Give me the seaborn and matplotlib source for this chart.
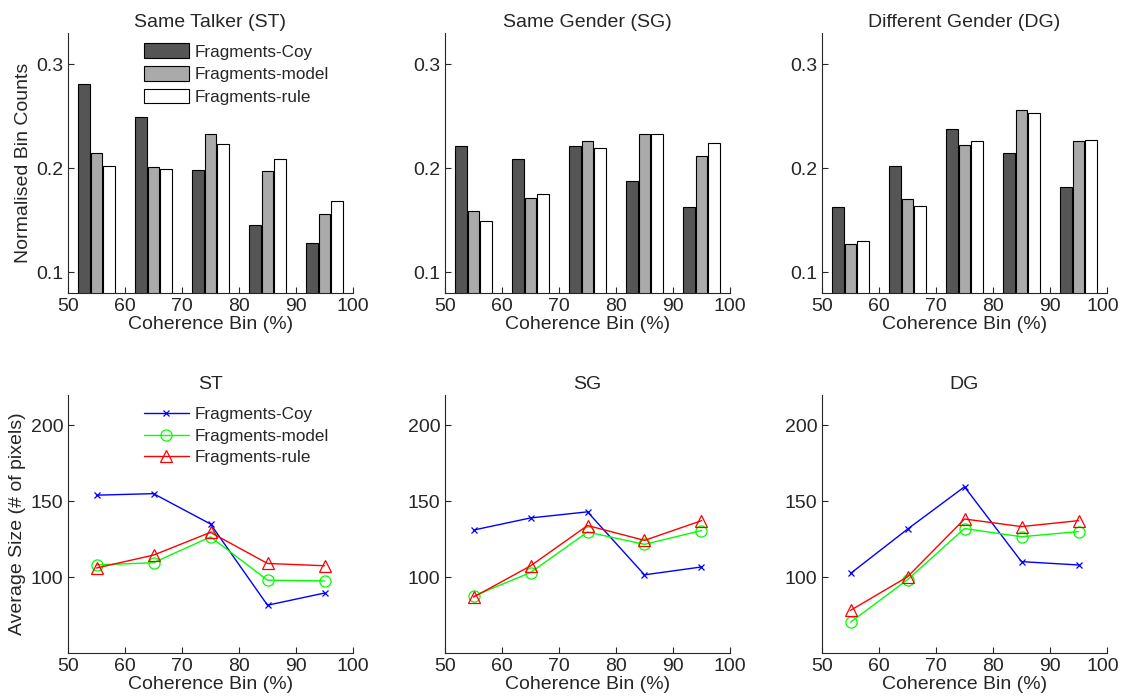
import numpy as np
import pandas as pd
import matplotlib
matplotlib.use("Agg")
import matplotlib.pyplot as plt
import matplotlib.transforms as mtransforms
import seaborn as sns

# Coherence bins (centre of each 10% bin)
bins = [55, 65, 75, 85, 95]
series = ["Fragments-Coy", "Fragments-model", "Fragments-rule"]

# Normalised bin counts per condition
st_coy = [0.281, 0.249, 0.198, 0.145, 0.128]
st_model = [0.215, 0.201, 0.233, 0.197, 0.156]
st_rule = [0.202, 0.199, 0.223, 0.209, 0.168]

sg_coy = [0.221, 0.209, 0.221, 0.188, 0.163]
sg_model = [0.159, 0.171, 0.226, 0.233, 0.212]
sg_rule = [0.149, 0.175, 0.219, 0.233, 0.224]

dg_coy = [0.163, 0.202, 0.238, 0.215, 0.182]
dg_model = [0.127, 0.170, 0.222, 0.256, 0.226]
dg_rule = [0.130, 0.164, 0.226, 0.253, 0.227]

# Average fragment size (# of pixels)
st_size_coy = [154, 155, 135, 81.5, 89.5]
st_size_model = [108, 109.5, 126.5, 98, 97.5]
st_size_rule = [106, 114.5, 129.5, 109, 107.5]

sg_size_coy = [131, 139, 143, 101.5, 106.7]
sg_size_model = [87.5, 103, 129.7, 121.6, 130.7]
sg_size_rule = [86.8, 107.4, 134, 124.2, 137.2]

dg_size_coy = [102.4, 131.6, 159.5, 110.2, 108]
dg_size_model = [70.3, 98.3, 132, 126.6, 130]
dg_size_rule = [78.1, 100.2, 138.3, 133.3, 137.2]

bar_titles = ["Same Talker (ST)", "Same Gender (SG)", "Different Gender (DG)"]
line_titles = ["ST", "SG", "DG"]

bar_data = [(st_coy, st_model, st_rule),
            (sg_coy, sg_model, sg_rule),
            (dg_coy, dg_model, dg_rule)]
size_data = [(st_size_coy, st_size_model, st_size_rule),
             (sg_size_coy, sg_size_model, sg_size_rule),
             (dg_size_coy, dg_size_model, dg_size_rule)]

sns.set_style("ticks")
plt.rcParams["font.family"] = ["Liberation Sans", "DejaVu Sans"]
plt.rcParams.update({
    "xtick.direction": "in",
    "ytick.direction": "in",
    "xtick.major.size": 4,
    "ytick.major.size": 4,
    "axes.edgecolor": "#262626",
    "xtick.color": "#262626",
    "ytick.color": "#262626",
    "axes.linewidth": 0.8,
})

FS = 14
W, H = 1121, 698
fig = plt.figure(figsize=(W / 100, H / 100), dpi=100)

lefts = [68, 445, 822]
ax_w = 285


def add_axes(left, top, bottom):
    return fig.add_axes([left / W, 1 - bottom / H, ax_w / W, (bottom - top) / H])


def nudge_last_xlabel(ax):
    # keep the right-most tick label inside the figure edge
    lbl = ax.get_xticklabels()[-1]
    offset = mtransforms.ScaledTranslation(-4 / 100, 0, fig.dpi_scale_trans)
    lbl.set_transform(lbl.get_transform() + offset)


bar_colors = ["#555555", "#aaaaaa", "#ffffff"]
line_colors = ["#0000ff", "#00ff00", "#ff0000"]
line_markers = ["x", "o", "^"]
marker_sizes = [5, 8, 8.5]

for i in range(3):
    # --- normalised bin counts (grouped bars) ---
    ax = add_axes(lefts[i], 33, 293)
    rows = []
    for name, vals in zip(series, bar_data[i]):
        for b, v in zip(bins, vals):
            rows.append({"bin": b, "value": v, "series": name})
    df = pd.DataFrame(rows)
    sns.barplot(data=df, x="bin", y="value", hue="series", hue_order=series,
                native_scale=True, width=0.66, gap=0.1, palette=bar_colors,
                edgecolor="black", linewidth=0.8, errorbar=None, saturation=1,
                legend=(i == 0), ax=ax)
    ax.set_xlim(50, 100)
    ax.set_ylim(0.08, 0.33)
    ax.set_xticks([50, 60, 70, 80, 90, 100])
    ax.set_yticks([0.1, 0.2, 0.3])
    ax.set_yticklabels(["0.1", "0.2", "0.3"])
    ax.tick_params(labelsize=FS, pad=3.5)
    ax.set_title(bar_titles[i], fontsize=FS, pad=4)
    ax.set_xlabel("Coherence Bin (%)", fontsize=FS, labelpad=1)
    ax.set_ylabel("Normalised Bin Counts" if i == 0 else "", fontsize=FS, labelpad=3)
    sns.despine(ax=ax)
    if i == 0:
        sns.move_legend(ax, "upper left", bbox_to_anchor=(0.267, 0.96),
                        frameon=False, title=None, fontsize=12.3,
                        handlelength=2.6, handleheight=0.95,
                        labelspacing=0.37, handletextpad=0.35,
                        borderpad=0, borderaxespad=0)
    if i == 2:
        nudge_last_xlabel(ax)

    # --- average fragment size (lines) ---
    ax2 = add_axes(lefts[i], 395, 653)
    for name, vals, c, m, ms in zip(series, size_data[i], line_colors,
                                    line_markers, marker_sizes):
        sdf = pd.DataFrame({"bin": bins, "size": vals})
        sns.lineplot(data=sdf, x="bin", y="size", color=c, marker=m,
                     markersize=ms, markeredgecolor=c, markerfacecolor="none",
                     markeredgewidth=0.9, linewidth=1.0,
                     label=name if i == 0 else None, ax=ax2)
    ax2.set_xlim(50, 100)
    ax2.set_ylim(50, 220)
    ax2.set_xticks([50, 60, 70, 80, 90, 100])
    ax2.set_yticks([100, 150, 200])
    ax2.tick_params(labelsize=FS, pad=3.5)
    ax2.set_title(line_titles[i], fontsize=FS, pad=4)
    ax2.set_xlabel("Coherence Bin (%)", fontsize=FS, labelpad=1)
    ax2.set_ylabel("Average Size (# of pixels)" if i == 0 else "", fontsize=FS,
                   labelpad=3)
    sns.despine(ax=ax2)
    if i == 0:
        ax2.legend(loc="upper left", bbox_to_anchor=(0.267, 0.952),
                   frameon=False, fontsize=12.3, handlelength=2.6,
                   labelspacing=0.37, handletextpad=0.35,
                   borderpad=0, borderaxespad=0)
    elif ax2.get_legend() is not None:
        ax2.get_legend().remove()
    if i == 2:
        nudge_last_xlabel(ax2)

fig.savefig("out.png", dpi=100)
